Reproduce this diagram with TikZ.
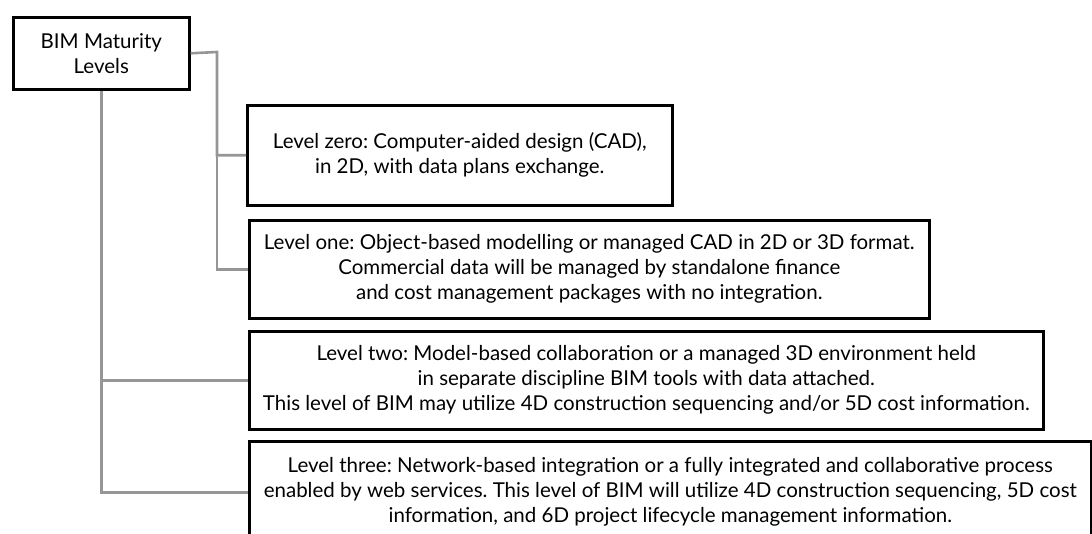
\documentclass[tikz,border=0pt]{standalone}
\usepackage{fontspec}
\setmainfont{Lato}
\frenchspacing
\definecolor{conngray}{RGB}{150,150,150}
\tikzset{
  box/.style={draw=black, line width=2.6pt, fill=white, inner sep=0pt, align=center, anchor=north west,
    font=\fontsize{20.5}{25}\selectfont},
  conn/.style={draw=conngray, line width=2.6pt},
}
\begin{document}
\begin{tikzpicture}[x=1pt,y=-1pt]
\useasboundingbox (0,0) rectangle (1092,534);
\begin{scope}
\clip (0,0) rectangle (1092,534);
\coordinate (j1) at (217,52);
\node[box, minimum width=176pt, minimum height=72pt] (root) at (12,16) {BIM Maturity\\Levels};
\node[box, minimum width=425pt, minimum height=100pt] (L0) at (246,104) {Level zero: Computer-aided design (CAD),\\in 2D, with data plans exchange.};
\node[box, minimum width=680pt, minimum height=98pt] (L1) at (248,219) {Level one: Object-based modelling or managed CAD in 2D or 3D format.\\Commercial data will be managed by standalone finance\\and cost management packages with no integration.};
\node[box, minimum width=794pt, minimum height=98pt] (L2) at (248,330) {Level two: Model-based collaboration or a managed 3D environment held\\in separate discipline BIM tools with data attached.\\This level of BIM may utilize 4D construction sequencing and/or 5D cost information.};
\node[box, minimum width=842pt, minimum height=102pt] (L3) at (248,440) {Level three: Network-based integration or a fully integrated and collaborative process\\enabled by web services. This level of BIM will utilize 4D construction sequencing, 5D cost\\information, and 6D project lifecycle management information.};
\draw[conn] (root.east) -- (j1) |- (L0.west);
\draw[conn] (j1) |- (L1.west);
\draw[conn] (root.south) |- (L2.west);
\draw[conn] (root.south) |- (L3.west);
\end{scope}
\end{tikzpicture}
\end{document}
